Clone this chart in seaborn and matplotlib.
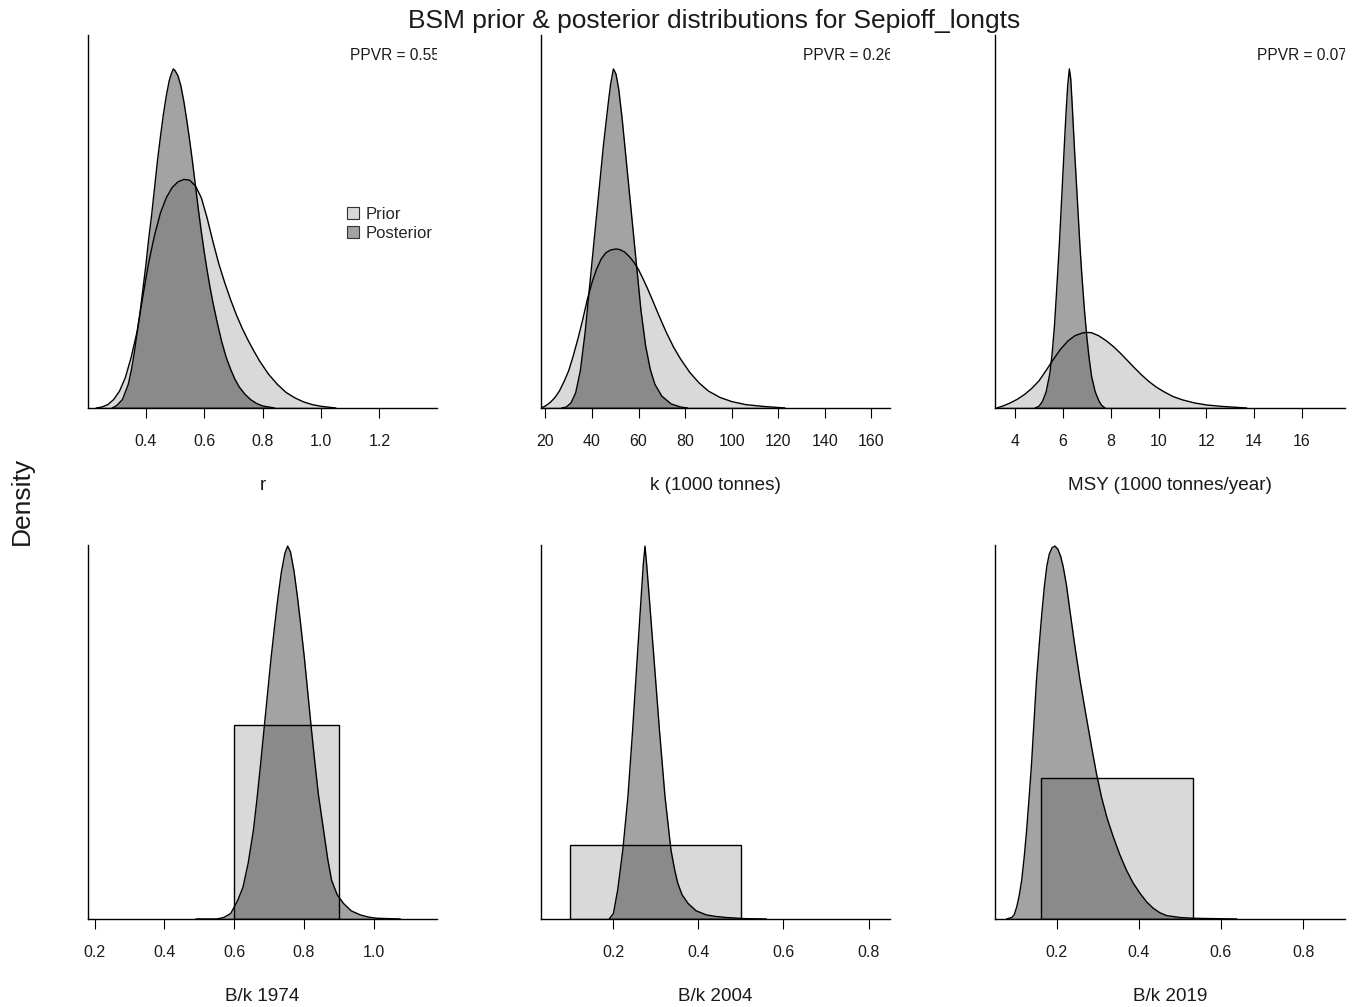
import matplotlib
matplotlib.use("Agg")
import matplotlib.pyplot as plt
import seaborn as sns
from matplotlib.patches import Patch

# ---------------- data ----------------
# r: prior and posterior density curves
r_prior_x = [0.23, 0.25, 0.27, 0.29, 0.31, 0.33, 0.35, 0.37, 0.39, 0.41, 0.43, 0.45,
             0.47, 0.49, 0.51, 0.53, 0.55, 0.57, 0.59, 0.61, 0.63, 0.65, 0.67, 0.69,
             0.71, 0.73, 0.75, 0.77, 0.79, 0.82, 0.85, 0.88, 0.91, 0.94, 0.97, 1.0, 1.05]
r_prior_d = [0.0, 0.015, 0.05, 0.125, 0.25, 0.45, 0.75, 1.125, 1.65, 2.15, 2.55, 2.875,
             3.1, 3.25, 3.335, 3.37, 3.36, 3.275, 3.1, 2.8, 2.45, 2.125, 1.85, 1.6,
             1.375, 1.175, 1.0, 0.84, 0.69, 0.5, 0.35, 0.23, 0.15, 0.09, 0.05, 0.025, 0.0]
r_post_x = [0.285, 0.30, 0.32, 0.34, 0.35, 0.36, 0.37, 0.38, 0.39, 0.40, 0.41, 0.42,
            0.43, 0.44, 0.45, 0.46, 0.47, 0.48, 0.487, 0.494, 0.50, 0.51, 0.52, 0.53,
            0.54, 0.55, 0.56, 0.57, 0.58, 0.59, 0.60, 0.61, 0.62, 0.63, 0.645, 0.66,
            0.675, 0.69, 0.705, 0.72, 0.74, 0.76, 0.78, 0.80, 0.84]
r_post_d = [0.0, 0.035, 0.125, 0.35, 0.55, 0.8, 1.1, 1.4, 1.75, 2.1, 2.5, 2.85,
            3.25, 3.65, 4.0, 4.325, 4.6, 4.825, 4.925, 5.0, 4.975, 4.9, 4.75, 4.525,
            4.25, 3.95, 3.625, 3.275, 2.925, 2.6, 2.3, 2.025, 1.775, 1.55, 1.25, 0.975,
            0.75, 0.575, 0.425, 0.31, 0.2, 0.12, 0.065, 0.03, 0.0]

# k (1000 tonnes)
k_prior_x = [18.1, 20, 22, 24, 26, 28, 30, 32, 34, 36, 38, 40, 42, 44, 46, 48, 50.4,
             52, 54, 56, 58, 60, 62, 64, 66, 68, 70, 72, 75, 78, 82, 86, 90, 95, 100,
             106, 113, 122.8]
k_prior_d = [0.0, 0.0003, 0.0008, 0.0015, 0.0025, 0.0039, 0.0055, 0.00775, 0.01025,
             0.013, 0.016, 0.0185, 0.0205, 0.022, 0.0229, 0.0233, 0.02345, 0.02335,
             0.023, 0.02235, 0.0215, 0.0204, 0.019, 0.0175, 0.0159, 0.01425, 0.01265,
             0.0111, 0.009, 0.00725, 0.00525, 0.0037, 0.0025, 0.00155, 0.00095, 0.0005,
             0.00025, 0.0]
k_post_x = [27, 29, 31, 33, 35, 37, 39, 41, 43, 45, 47, 48, 49.2, 50.3, 51.5, 53, 55,
            57, 59, 61, 63, 65, 67, 70, 74, 78, 81]
k_post_d = [0.0, 0.00015, 0.00075, 0.00225, 0.0055, 0.011, 0.018, 0.025, 0.032, 0.039,
            0.045, 0.04775, 0.05, 0.04925, 0.047, 0.0425, 0.0355, 0.0285, 0.0215,
            0.0145, 0.00925, 0.00575, 0.0035, 0.00175, 0.0006, 0.00015, 0.0]

# MSY (1000 tonnes/year)
msy_prior_x = [3.23, 3.5, 3.8, 4.1, 4.4, 4.7, 5.0, 5.3, 5.6, 5.9, 6.2, 6.5, 6.8, 7.0,
               7.2, 7.5, 7.8, 8.1, 8.4, 8.7, 9.0, 9.3, 9.6, 9.9, 10.2, 10.6, 11.0, 11.5,
               12.0, 12.6, 13.68]
msy_prior_d = [0.0, 0.0078, 0.0195, 0.0338, 0.052, 0.0754, 0.104, 0.1443, 0.1859, 0.2249,
               0.2561, 0.2769, 0.2873, 0.2899, 0.2886, 0.2769, 0.2587, 0.2366, 0.2106,
               0.182, 0.1534, 0.1261, 0.1014, 0.0806, 0.0637, 0.0442, 0.0312, 0.0195,
               0.0117, 0.0065, 0.0]
msy_post_x = [4.84, 5.0, 5.15, 5.3, 5.45, 5.55, 5.65, 5.75, 5.85, 5.95, 6.05, 6.13, 6.2,
              6.27, 6.33, 6.4, 6.48, 6.56, 6.64, 6.72, 6.8, 6.9, 7.0, 7.1, 7.2, 7.35,
              7.5, 7.62, 7.76]
msy_post_d = [0.0, 0.0065, 0.026, 0.0624, 0.13, 0.208, 0.3185, 0.468, 0.624, 0.806,
              0.988, 1.131, 1.235, 1.3, 1.261, 1.144, 1.001, 0.871, 0.741, 0.611,
              0.5005, 0.377, 0.273, 0.1885, 0.121, 0.0624, 0.0286, 0.0104, 0.0]

# B/k priors are uniform ranges
bk_years = ["1974", "2004", "2019"]
bk_prior_lo = [0.6, 0.1, 0.163]
bk_prior_hi = [0.9, 0.5, 0.532]

bk1974_post_x = [0.49, 0.55, 0.57, 0.59, 0.61, 0.625, 0.64, 0.655, 0.665, 0.675, 0.685,
                 0.695, 0.705, 0.715, 0.725, 0.735, 0.745, 0.753, 0.761, 0.771, 0.781,
                 0.791, 0.801, 0.811, 0.821, 0.831, 0.841, 0.856, 0.868, 0.879, 0.895,
                 0.913, 0.935, 0.961, 0.985, 1.009, 1.076]
bk1974_post_d = [0.0, 0.0, 0.026, 0.096, 0.321, 0.545, 0.962, 1.527, 2.053, 2.63, 3.24,
                 3.849, 4.458, 5.004, 5.517, 5.966, 6.287, 6.415, 6.319, 5.998, 5.549,
                 5.036, 4.491, 3.881, 3.272, 2.694, 2.149, 1.527, 1.026, 0.667, 0.417,
                 0.269, 0.141, 0.071, 0.032, 0.013, 0.0]
bk2004_post_x = [0.191, 0.201, 0.211, 0.223, 0.235, 0.246, 0.256, 0.266, 0.271, 0.275,
                 0.279, 0.285, 0.297, 0.309, 0.322, 0.336, 0.345, 0.352, 0.362, 0.376,
                 0.395, 0.419, 0.44, 0.466, 0.509, 0.56]
bk2004_post_d = [0.0, 0.189, 0.983, 2.331, 4.133, 6.376, 8.631, 10.874, 11.97, 12.6,
                 11.97, 10.874, 8.631, 6.376, 4.133, 2.331, 1.638, 1.21, 0.819, 0.529,
                 0.277, 0.139, 0.088, 0.05, 0.013, 0.0]
bk2019_post_x = [0.078, 0.091, 0.097, 0.103, 0.109, 0.115, 0.121, 0.127, 0.133, 0.139,
                 0.145, 0.151, 0.158, 0.164, 0.170, 0.176, 0.182, 0.189, 0.196, 0.203,
                 0.210, 0.216, 0.224, 0.232, 0.244, 0.257, 0.271, 0.285, 0.297, 0.309,
                 0.323, 0.338, 0.354, 0.37, 0.386, 0.403, 0.419, 0.435, 0.451, 0.468,
                 0.50, 0.533, 0.638]
bk2019_post_d = [0.0, 0.029, 0.086, 0.237, 0.453, 0.748, 1.186, 1.711, 2.337, 2.998,
                 3.811, 4.602, 5.321, 5.889, 6.399, 6.795, 7.032, 7.161, 7.19, 7.132,
                 6.989, 6.795, 6.435, 5.968, 5.285, 4.602, 3.955, 3.322, 2.804, 2.358,
                 1.941, 1.582, 1.237, 0.942, 0.697, 0.496, 0.331, 0.209, 0.122, 0.065,
                 0.029, 0.014, 0.0]

ppvr_values = ["0.55", "0.26", "0.07"]
top_labels = ["r", "k (1000 tonnes)", "MSY (1000 tonnes/year)"]
top_ticks = [[0.4, 0.6, 0.8, 1.0, 1.2],
             [20, 40, 60, 80, 100, 120, 140, 160],
             [4, 6, 8, 10, 12, 14, 16]]
top_tick_labels = [["0.4", "0.6", "0.8", "1.0", "1.2"],
                   ["20", "40", "60", "80", "100", "120", "140", "160"],
                   ["4", "6", "8", "10", "12", "14", "16"]]
top_xlims = [(0.202, 1.397), (18.1, 168.0), (3.16, 17.8)]
bottom_ticks = [[0.2, 0.4, 0.6, 0.8, 1.0], [0.2, 0.4, 0.6, 0.8], [0.2, 0.4, 0.6, 0.8]]
bottom_tick_labels = [["0.2", "0.4", "0.6", "0.8", "1.0"],
                      ["0.2", "0.4", "0.6", "0.8"], ["0.2", "0.4", "0.6", "0.8"]]
bottom_xlims = [(0.181, 1.181), (0.031, 0.850), (0.050, 0.902)]

# ---------------- style ----------------
sns.set_theme(style="white")
plt.rcParams["font.family"] = ["Liberation Sans", "DejaVu Sans"]

PRIOR_FILL = "#d9d9d9"
POST_ALPHA = 0.36
LINE_W = 1.0
TICK_FS = 11.5
LABEL_FS = 13.6

fig = plt.figure(figsize=(13.65, 10.07), dpi=100)
W, H = 1365.0, 1007.0
col_left = [88, 541, 995]
col_width = [349, 349, 350]
rows = [(35, 408), (545, 919)]
ppvr_xpos = [0.7507, 0.7516, 0.7477]


def make_axes(row, col):
    top, bottom = rows[row]
    return fig.add_axes([col_left[col] / W, 1 - bottom / H,
                         col_width[col] / W, (bottom - top) / H])


def style_axes(ax, xlim, ticks, ticklabels, xlabel):
    ax.set_xlim(*xlim)
    ax.set_xticks(ticks)
    ax.set_xticklabels(ticklabels)
    ax.set_yticks([])
    ax.set_ylabel("")
    for side in ("top", "right"):
        ax.spines[side].set_visible(False)
    for side in ("left", "bottom"):
        ax.spines[side].set_color("black")
        ax.spines[side].set_linewidth(1.0)
    ax.tick_params(axis="x", direction="out", length=7, width=0.8, color="black",
                   pad=12, labelsize=TICK_FS, labelcolor="#1a1a1a", bottom=True)
    ax.set_xlabel(xlabel, fontsize=LABEL_FS, labelpad=20, color="#1a1a1a")
    ax.set_facecolor("white")


def draw_density(ax, x, d, prior):
    if prior:
        ax.fill_between(x, d, 0, color=PRIOR_FILL, lw=0, zorder=1)
    else:
        ax.fill_between(x, d, 0, color="black", alpha=POST_ALPHA, lw=0, zorder=2)
    sns.lineplot(x=x, y=d, ax=ax, color="black", lw=LINE_W, sort=False,
                 estimator=None, zorder=3)
    ax.plot([x[0], x[-1]], [0, 0], color="black", lw=LINE_W, zorder=3)


# ---------------- top row ----------------
top_data = [(r_prior_x, r_prior_d, r_post_x, r_post_d),
            (k_prior_x, k_prior_d, k_post_x, k_post_d),
            (msy_prior_x, msy_prior_d, msy_post_x, msy_post_d)]

for c, (px, pd_, qx, qd) in enumerate(top_data):
    ax = make_axes(0, c)
    draw_density(ax, px, pd_, prior=True)
    draw_density(ax, qx, qd, prior=False)
    ax.set_ylim(0, max(qd) * 1.1)
    style_axes(ax, top_xlims[c], top_ticks[c], top_tick_labels[c], top_labels[c])
    t = ax.text(ppvr_xpos[c], 0.946, "PPVR = " + ppvr_values[c], transform=ax.transAxes,
                fontsize=11.2, ha="left", va="center", color="#1a1a1a", clip_on=True)
    t.set_clip_box(ax.bbox)
    if c == 0:
        handles = [Patch(facecolor=PRIOR_FILL, edgecolor="#333333", lw=0.8, label="Prior"),
                   Patch(facecolor="#a3a3a3", edgecolor="#333333", lw=0.8, label="Posterior")]
        ax.legend(handles=handles, loc="upper left", bbox_to_anchor=(0.742, 0.540),
                  frameon=False, fontsize=12, handlelength=0.75, handleheight=0.75,
                  handletextpad=0.4, labelspacing=0.27, borderaxespad=0, borderpad=0)

# ---------------- bottom row ----------------
bottom_post = [(bk1974_post_x, bk1974_post_d), (bk2004_post_x, bk2004_post_d),
               (bk2019_post_x, bk2019_post_d)]

for c, (qx, qd) in enumerate(bottom_post):
    ax = make_axes(1, c)
    lo, hi = bk_prior_lo[c], bk_prior_hi[c]
    ax.bar([lo], [1.0 / (hi - lo)], width=hi - lo, align="edge", color=PRIOR_FILL,
           edgecolor="black", linewidth=LINE_W, zorder=1)
    draw_density(ax, qx, qd, prior=False)
    ax.set_ylim(0, max(qd) * 1.003)
    style_axes(ax, bottom_xlims[c], bottom_ticks[c], bottom_tick_labels[c],
               "B/k " + bk_years[c])

fig.text(714.5 / W, 1 - 21 / H, "BSM prior & posterior distributions for Sepioff_longts",
         ha="center", va="center", fontsize=19, color="#1a1a1a")
fig.text(22 / W, 1 - 501 / H, "Density", rotation=90, ha="center", va="center",
         fontsize=19, color="#1a1a1a")

fig.savefig("out.png", dpi=100, facecolor="white")
